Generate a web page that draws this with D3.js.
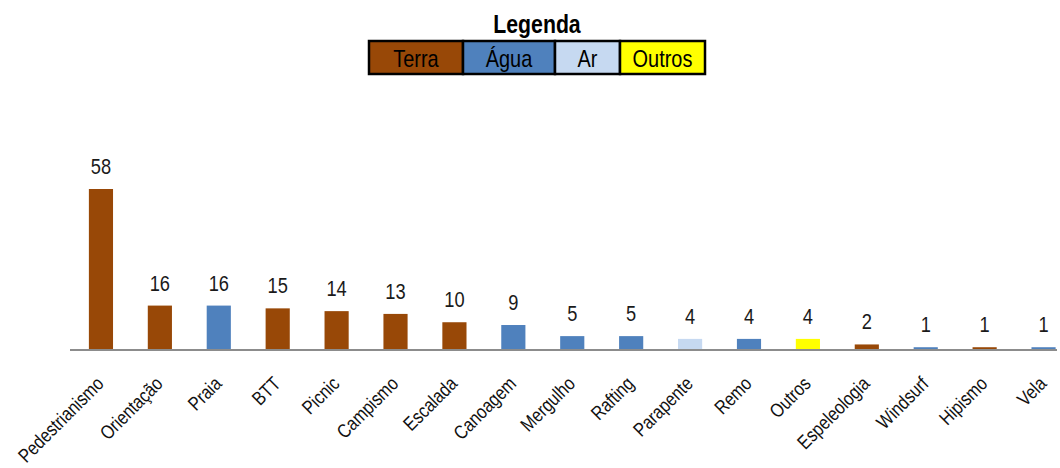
<!DOCTYPE html>
<html><head><meta charset="utf-8">
<script src="https://cdn.jsdelivr.net/npm/d3@7"></script>
<style>body{margin:0;background:#fff}svg{display:block;font-family:"Liberation Sans",Arial,sans-serif}</style>
</head><body><svg id="c" width="1060" height="468"></svg>
<script>
const categories = ["Pedestrianismo","Orientação","Praia","BTT","Picnic","Campismo","Escalada","Canoagem","Mergulho","Rafting","Parapente","Remo","Outros","Espeleologia","Windsurf","Hipismo","Vela"];
const values = [58,16,16,15,14,13,10,9,5,5,4,4,4,2,1,1,1];
const groups = ["Terra","Terra","Água","Terra","Terra","Terra","Terra","Água","Água","Água","Ar","Água","Outros","Terra","Água","Terra","Água"];
const legendLabels = ["Terra","Água","Ar","Outros"];
const legendColors = ["#984807","#4F81BD","#C6D9F1","#FFFF00"];

const SX = 0.83; // narrow text
const svg = d3.select("#c");
const color = d3.scaleOrdinal().domain(legendLabels).range(legendColors);
const x = d3.scaleBand().domain(categories).range([71.5, 1073]).paddingInner(0.59).paddingOuter(0.295);
const y = d3.scaleLinear().domain([0, 58]).range([350, 189]);

// bars
svg.selectAll("rect.bar").data(categories).join("rect").attr("class","bar")
  .attr("x", d => x(d)).attr("width", x.bandwidth())
  .attr("y", (d,i) => y(values[i])).attr("height", (d,i) => 350 - y(values[i]))
  .attr("fill", (d,i) => color(groups[i]));

// value labels
svg.selectAll("text.val").data(categories).join("text").attr("class","val")
  .attr("transform", (d,i) => `translate(${x(d) + x.bandwidth()/2},${y(values[i]) - 15}) scale(${SX},1)`)
  .attr("text-anchor","middle").attr("font-size", 22).attr("fill","#1a1a1a")
  .text((d,i) => values[i]);

// axis line
svg.append("line").attr("x1",70).attr("x2",1057).attr("y1",350).attr("y2",350)
  .attr("stroke","#8c8c8c").attr("stroke-width",2);

// category labels
svg.selectAll("text.cat").data(categories).join("text").attr("class","cat")
  .attr("transform", d => `translate(${x(d)+x.bandwidth()/2+4},385) rotate(-45) scale(${SX},1)`)
  .attr("text-anchor","end").attr("font-size",19.5).attr("fill","#111")
  .text(d => d);

// legend
svg.append("text").attr("transform",`translate(537,33) scale(0.85,1)`).attr("text-anchor","middle")
  .attr("font-size",25).attr("font-weight","bold").text("Legenda");
const lw = [94,92,65,85];
let lx = 369;
const lg = svg.append("g");
legendLabels.forEach((l,i) => {
  lg.append("rect").attr("x",lx).attr("y",41).attr("width",lw[i]).attr("height",33)
    .attr("fill",legendColors[i]).attr("stroke","#000").attr("stroke-width",2.5);
  lg.append("text").attr("transform",`translate(${lx+lw[i]/2},67) scale(${SX},1)`).attr("text-anchor","middle")
    .attr("font-size",24).attr("fill","#000").text(l);
  lx += lw[i];
});
</script></body></html>
